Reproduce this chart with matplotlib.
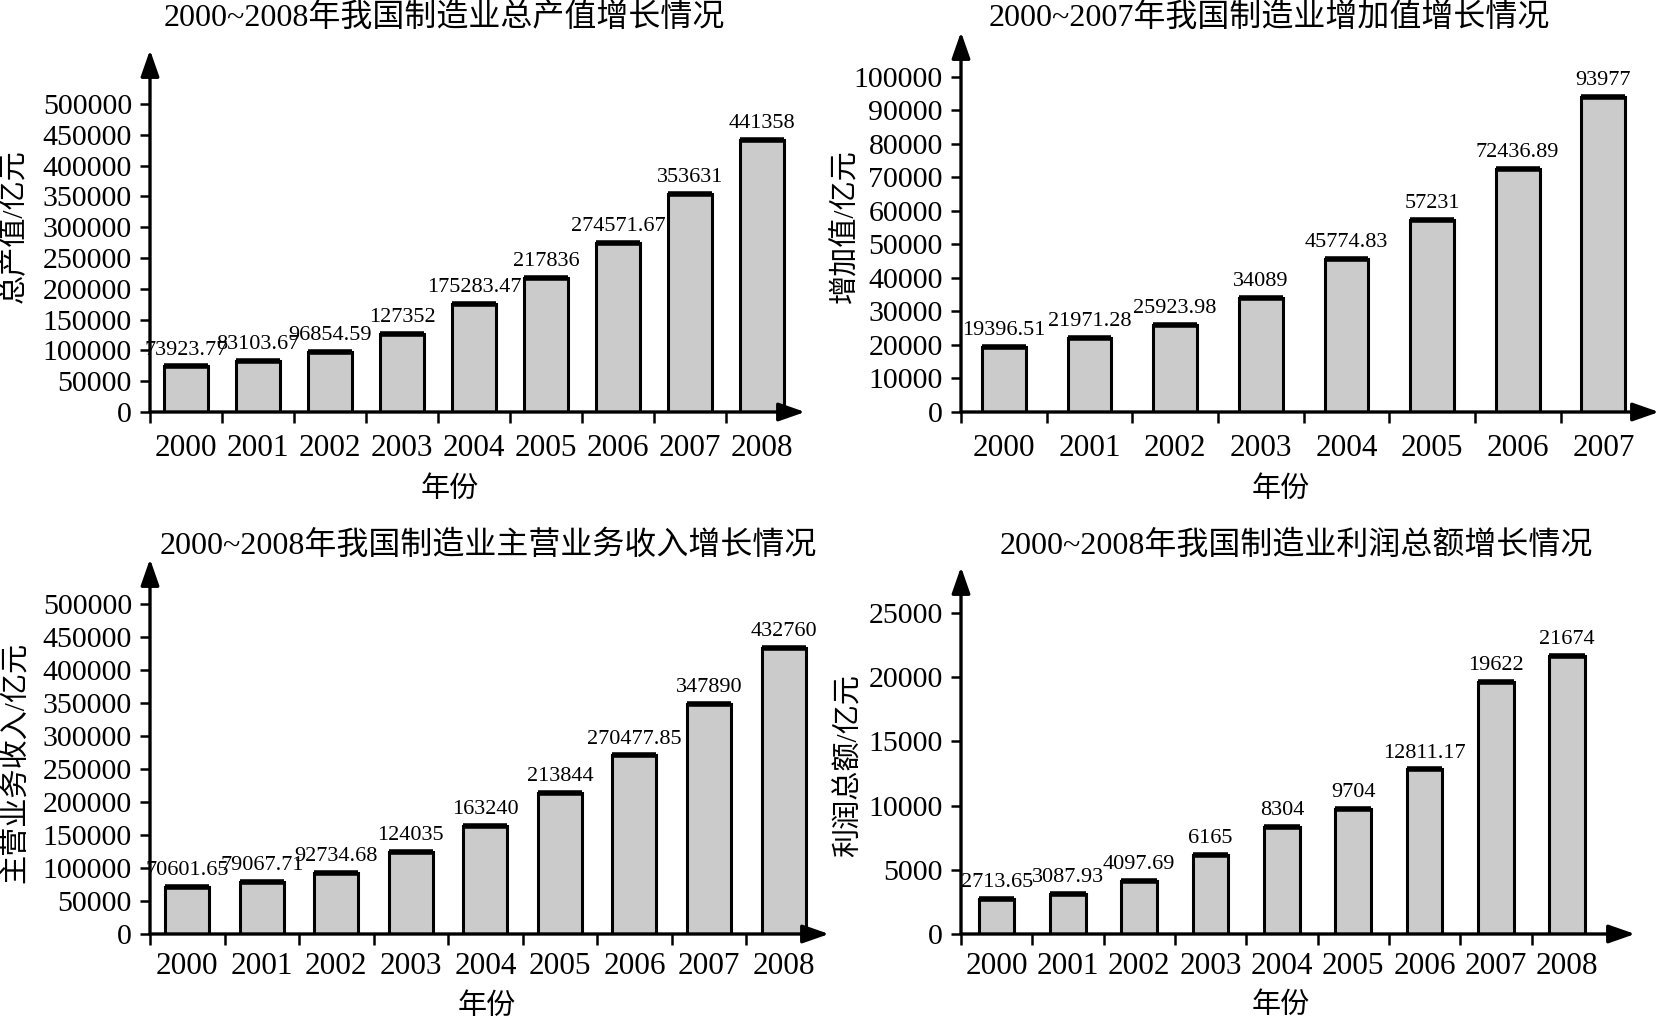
import matplotlib
matplotlib.use("Agg")
import matplotlib.pyplot as plt

plt.rcParams['font.family'] = ['Liberation Serif', 'Noto Sans CJK SC']

# Data #
years_9 = ['2000', '2001', '2002', '2003', '2004', '2005', '2006', '2007', '2008']
years_8 = years_9[:8]
output_vals = [73923.77, 83103.67, 96854.59, 127352, 175283.47, 217836, 274571.67, 353631, 441358]
added_vals = [19396.51, 21971.28, 25923.98, 34089, 45774.83, 57231, 72436.89, 93977]
revenue_vals = [70601.65, 79067.71, 92734.68, 124035, 163240, 213844, 270477.85, 347890, 432760]
profit_vals = [2713.65, 3087.93, 4097.69, 6165, 8304, 9704, 12811.17, 19622, 21674]

W, H = 1662, 1018
fig = plt.figure(figsize=(W / 100, H / 100), dpi=100)


def fmt(v):
    return ('%.2f' % v).rstrip('0').rstrip('.')


def px(x, y):
    # pixel coords (top-left origin) -> figure fraction
    return x / W, 1 - y / H


def panel(left, right, y0, ytop, cats, vals, yticks, ymax, xmax, bw,
          title, title_xy, ylabel, ylabel_xy, xlabel_xy, year_pad):
    x0, b = px(left, y0)
    x1, t = px(right, ytop)
    ax = fig.add_axes([x0, b, x1 - x0, t - b])
    n = len(cats)
    pos = [i + 0.5 for i in range(n)]
    ax.bar(pos, vals, width=bw, color='#cbcbcb', edgecolor='black', linewidth=2.2, zorder=2)
    ax.hlines(vals, [p - bw / 2 for p in pos], [p + bw / 2 for p in pos],
              colors='black', linewidth=4, zorder=3)
    for p, v in zip(pos, vals):
        ax.annotate(fmt(v), (p, v), xytext=(0, 5), textcoords='offset points',
                    ha='center', va='bottom', fontsize=16)
    ax.set_xlim(0, xmax)
    ax.set_ylim(0, ymax)
    for s in ax.spines.values():
        s.set_visible(False)
    # axes with arrow heads
    for tip in [(0, 1), (1, 0)]:
        ax.annotate('', xy=tip, xytext=(0, 0), xycoords='axes fraction',
                    arrowprops=dict(arrowstyle='-|>,head_length=0.8,head_width=0.28',
                                    mutation_scale=20, lw=2.4, color='black',
                                    shrinkA=0, shrinkB=0))
    ax.set_yticks(yticks)
    ax.set_yticklabels([str(v) for v in yticks])
    ax.tick_params(axis='y', direction='out', length=7, width=1.8, pad=6, labelsize=21.5)
    ax.set_xticks(range(n))
    ax.set_xticklabels([])
    ax.set_xticks(pos, minor=True)
    ax.set_xticklabels(cats, minor=True)
    ax.tick_params(axis='x', which='major', direction='out', length=8, width=1.8)
    ax.tick_params(axis='x', which='minor', length=0, pad=year_pad, labelsize=22.5)
    fx, fy = px(*title_xy)
    fig.text(fx, fy, title, ha='center', va='center', fontsize=23)
    fx, fy = px(*ylabel_xy)
    fig.text(fx, fy, ylabel, ha='center', va='center', rotation=90, fontsize=21)
    fx, fy = px(*xlabel_xy)
    fig.text(fx, fy, '年份', ha='center', va='center', fontsize=21)
    return ax


panel(150, 805, 412, 50, years_9, output_vals, list(range(0, 500001, 50000)),
      587700, 9.1, 0.61, '2000~2008年我国制造业总产值增长情况', (444, 18),
      '总产值/亿元', (14, 226), (450, 490), 16)

panel(961, 1659, 412, 32, years_8, added_vals, list(range(0, 100001, 10000)),
      113400, 8.15, 0.51, '2000~2007年我国制造业增加值增长情况', (1269, 18),
      '增加值/亿元', (846, 226), (1281, 490), 16)

panel(150, 829, 934, 559, years_9, revenue_vals, list(range(0, 500001, 50000)),
      568200, 9.11, 0.59, '2000~2008年我国制造业主营业务收入增长情况', (488, 546),
      '主营业务收入/亿元', (16, 762), (487, 1007), 13)

panel(961, 1635, 934, 567, years_9, profit_vals, list(range(0, 25001, 5000)),
      28580, 9.45, 0.50, '2000~2008年我国制造业利润总额增长情况', (1296, 546),
      '利润总额/亿元', (849, 766), (1281, 1006), 13)

fig.savefig('out.png', dpi=100, facecolor='white')
